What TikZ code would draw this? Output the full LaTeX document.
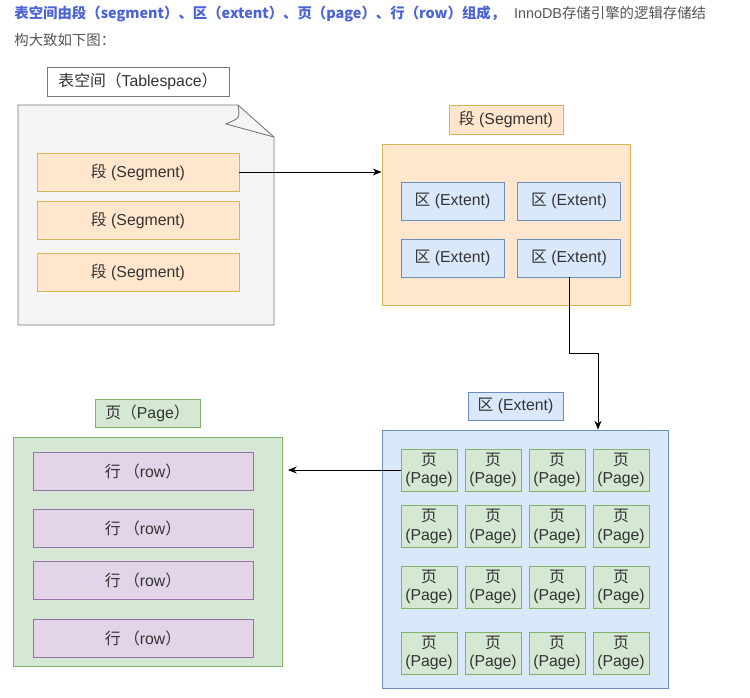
\documentclass[tikz,border=0pt]{standalone}
\usepackage{fontspec}
\usetikzlibrary{arrows.meta}
\setmainfont{Liberation Sans}
\newfontfamily\cjk{Noto Sans CJK SC}
\definecolor{txtgray}{HTML}{333333}
\definecolor{headblue}{HTML}{4A63D8}
\definecolor{headgray}{HTML}{555555}
\definecolor{docfill}{HTML}{F5F5F5}
\definecolor{docline}{HTML}{777777}
\definecolor{segfill}{HTML}{FFE6CC}
\definecolor{segline}{HTML}{D6B656}
\definecolor{extfill}{HTML}{DAE8FC}
\definecolor{extline}{HTML}{6C8EBF}
\definecolor{pagefill}{HTML}{D5E8D4}
\definecolor{pageline}{HTML}{82B366}
\definecolor{rowfill}{HTML}{E1D5E7}
\definecolor{rowline}{HTML}{9673A6}
\tikzset{
  box/.style={draw, line width=0.5pt, inner sep=0pt, text=txtgray,
    font=\fontsize{9}{10.5}\selectfont, align=center},
  labelbox/.style={box, fill=white, draw=docline},
  segbox/.style={box, fill=segfill, draw=segline},
  extbox/.style={box, fill=extfill, draw=extline},
  pagebox/.style={box, fill=pagefill, draw=pageline},
  rowbox/.style={box, fill=rowfill, draw=rowline},
  link/.style={->, line width=0.5pt, black}
}
\begin{document}
\begin{tikzpicture}[>={Stealth[length=5pt,width=4pt]}, x=0.02cm, y=-0.02cm]
        \useasboundingbox (0,0) rectangle (750,697);

        % Heading text
        \node[anchor=west, inner sep=0pt, font=\fontsize{8.2}{10}\selectfont] (head1) at (14,14)
          {\textcolor{headblue}{\bfseries\cjk 表空间由段（segment）、区（extent）、页（page）、行（row）组成，}\hspace{5pt}\textcolor{headgray}{InnoDB\cjk 存储引擎的逻辑存储结}};
        \node[anchor=west, inner sep=0pt, font=\fontsize{8.2}{10}\selectfont, text=headgray] (head2) at (14,40) {\cjk 构大致如下图：};

        % Tablespace
        \node[labelbox, minimum width=3.64cm, minimum height=0.58cm] (tslabel) at (138,81.5) {{\cjk 表空间（}Tablespace{\cjk ）}};
        \draw[line width=0.5pt, draw=docline, fill=docfill] (18,105) -- (238,105) -- (274,137) -- (274,325) -- (18,325) -- cycle;
        \draw[line width=0.5pt, draw=docline] (238,105) .. controls (240,118) .. (226,124) -- (274,137);
        \node[segbox, minimum width=4.04cm, minimum height=0.76cm] (seg1) at (138,172) {{\cjk 段} (Segment)};
        \node[segbox, minimum width=4.04cm, minimum height=0.76cm] (seg2) at (138,220) {{\cjk 段} (Segment)};
        \node[segbox, minimum width=4.04cm, minimum height=0.76cm] (seg3) at (138,272) {{\cjk 段} (Segment)};

        % Segment
        \node[segbox, minimum width=2.28cm, minimum height=0.58cm] (seglabel) at (506,119.5) {{\cjk 段} (Segment)};
        \node[segbox, minimum width=4.96cm, minimum height=3.22cm] (segbig) at (506,224.5) {};
        \node[extbox, minimum width=2.06cm, minimum height=0.76cm] (ext1) at (452.5,201) {{\cjk 区} (Extent)};
        \node[extbox, minimum width=2.06cm, minimum height=0.76cm] (ext2) at (569,201) {{\cjk 区} (Extent)};
        \node[extbox, minimum width=2.06cm, minimum height=0.76cm] (ext3) at (452.5,258) {{\cjk 区} (Extent)};
        \node[extbox, minimum width=2.06cm, minimum height=0.76cm] (ext4) at (569,258) {{\cjk 区} (Extent)};

        % Extent
        \node[extbox, minimum width=1.9cm, minimum height=0.56cm] (extlabel) at (515.5,406) {{\cjk 区} (Extent)};
        \node[extbox, minimum width=5.72cm, minimum height=5.16cm] (extbig) at (525,559) {};
        \foreach \r/\y in {1/470, 2/526.5, 3/587, 4/653}
          \foreach \c/\x in {1/429, 2/493, 3/557, 4/621}
            \node[pagebox, minimum width=1.12cm, minimum height=0.84cm] (pg\r\c) at (\x,\y) {{\cjk 页}\\(Page)};

        % Page
        \node[pagebox, minimum width=2.1cm, minimum height=0.56cm] (pglabel) at (147.5,413) {{\cjk 页（}Page{\cjk ）}};
        \node[pagebox, minimum width=5.38cm, minimum height=4.58cm] (pgbig) at (147.5,551.5) {};
        \node[rowbox, minimum width=4.4cm, minimum height=0.76cm] (row1) at (143,471) {{\cjk 行\ （}row{\cjk ）}};
        \node[rowbox, minimum width=4.4cm, minimum height=0.76cm] (row2) at (143,528) {{\cjk 行\ （}row{\cjk ）}};
        \node[rowbox, minimum width=4.4cm, minimum height=0.76cm] (row3) at (143,580) {{\cjk 行\ （}row{\cjk ）}};
        \node[rowbox, minimum width=4.4cm, minimum height=0.76cm] (row4) at (143,638) {{\cjk 行\ （}row{\cjk ）}};

        % Connectors
        \draw[link] (seg1.east) -- (seg1.east -| segbig.west);
        \coordinate (bend) at (598,353);
        \draw[link] (ext4.south) |- (bend) -- (bend |- extbig.north);
        \coordinate (rowin) at (288,470);
        \draw[link] (pg11.west) -- (rowin);
\end{tikzpicture}
\end{document}
